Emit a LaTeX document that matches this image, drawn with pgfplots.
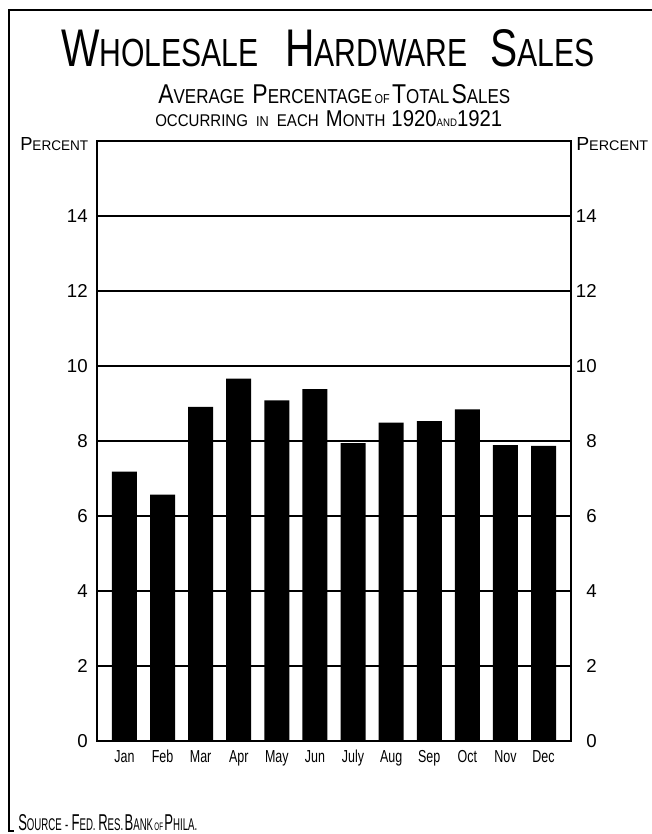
\documentclass[border=0pt]{standalone}
\usepackage{fontspec}
\setmainfont{Liberation Sans}
\usepackage{graphicx}
\usepackage{pgfplots}
\pgfplotsset{compat=1.18}

\newcommand{\Lg}[1]{{\fontsize{20}{20}\selectfont #1}}
\newcommand{\Sm}[1]{{\fontsize{14.8}{14.8}\selectfont #1}}
\newcommand{\Md}[1]{{\fontsize{12.5}{12.5}\selectfont #1}}
\newcommand{\Tn}[1]{{\fontsize{9.5}{9.5}\selectfont #1}}
\newcommand{\mon}[1]{\scalebox{0.72}[1]{#1}}

\begin{document}
\begin{tikzpicture}
\useasboundingbox (0,0) rectangle (489pt,625.5pt);

% outer frame
\draw[line width=1.1pt] (489pt,618pt) -- (6.75pt,618pt) -- (6.75pt,2.25pt) -- (10.5pt,2.25pt);

% titles
\node[anchor=base west, inner sep=0pt] at (45.75pt,575.25pt)
  {\resizebox{399.75pt}{27.75pt}{\Lg{W}\Sm{HOLESALE}\hspace{13pt}\Lg{H}\Sm{ARDWARE}\hspace{11pt}\Lg{S}\Sm{ALES}}};
\node[anchor=base west, inner sep=0pt] at (118.5pt,547.5pt)
  {\resizebox{264pt}{14.25pt}{\Lg{A}\Sm{VERAGE}\hspace{7pt}\Lg{P}\Sm{ERCENTAGE}\hspace{2pt}\Tn{OF}\hspace{2pt}\Lg{T}\Sm{OTAL}\hspace{2pt}\Lg{S}\Sm{ALES}}};
\node[anchor=base west, inner sep=0pt] at (116.25pt,530.25pt)
  {\resizebox{260.25pt}{12pt}{\Sm{OCCURRING}\hspace{8pt}\Md{IN}\hspace{8pt}\Sm{EACH}\hspace{7pt}\Lg{M}\Sm{ONTH}\hspace{6pt}\Lg{1920}\Tn{AND}\Lg{1921}}};

% percent labels
\node[anchor=base west, inner sep=0pt] at (15pt,512.25pt)
  {\resizebox{51pt}{9.75pt}{\Lg{P}\Sm{ERCENT}}};
\node[anchor=base west, inner sep=0pt] at (432pt,512.25pt)
  {\resizebox{54pt}{9.75pt}{\Lg{P}\Sm{ERCENT}}};

% source
\node[anchor=base west, inner sep=0pt] at (13.5pt,2.6pt)
  {\resizebox{134.25pt}{12pt}{\Lg{S}\Sm{OURCE}\hspace{5pt}\Sm{-}\hspace{5pt}\Lg{F}\Sm{ED.}\hspace{4pt}\Lg{R}\Sm{ES.}\hspace{2pt}\Lg{B}\Sm{ANK}\hspace{2pt}\Tn{OF}\hspace{2pt}\Lg{P}\Sm{HILA.}}};

\begin{axis}[
  at={(72.75pt,69.75pt)}, anchor=south west, scale only axis,
  width=355.5pt, height=450pt,
  xmin=-0.72, xmax=11.72, ymin=0, ymax=16,
  ybar, bar width=18.75pt,
  axis on top=false,
  xtick={0,1,2,3,4,5,6,7,8,9,10,11},
  xticklabels={\mon{Jan},\mon{Feb},\mon{Mar},\mon{Apr},\mon{May},\mon{Jun},\mon{July},\mon{Aug},\mon{Sep},\mon{Oct},\mon{Nov},\mon{Dec}},
  xticklabel style={anchor=base, inner sep=0pt, yshift=-12pt, font=\fontsize{13}{13}\selectfont},
  ytick={0,2,4,6,8,10,12,14},
  ymajorgrids, grid style={black, line width=0.9pt},
  axis line style={line width=1.1pt},
  tick style={draw=none},
  yticklabel style={anchor=east, inner sep=0pt, xshift=-6.75pt, font=\fontsize{14}{14}\selectfont},
  /pgf/number format/assume math mode=true,
]
\addplot[fill=black, draw=none, bar shift=0pt] coordinates {
  (0,7.18) (1,6.57) (2,8.91) (3,9.66) (4,9.08) (5,9.38)
  (6,7.94) (7,8.49) (8,8.53) (9,8.84) (10,7.89) (11,7.87)
};
\end{axis}

\begin{axis}[
  at={(72.75pt,69.75pt)}, anchor=south west, scale only axis,
  width=355.5pt, height=450pt,
  xmin=-0.72, xmax=11.72, ymin=0, ymax=16,
  hide x axis,
  axis y line*=right,
  y axis line style={draw=none},
  ytick={0,2,4,6,8,10,12,14},
  tick style={draw=none},
  yticklabel style={anchor=east, inner sep=0pt, xshift=19.5pt, font=\fontsize{14}{14}\selectfont},
  /pgf/number format/assume math mode=true,
]
\end{axis}
\end{tikzpicture}
\end{document}
